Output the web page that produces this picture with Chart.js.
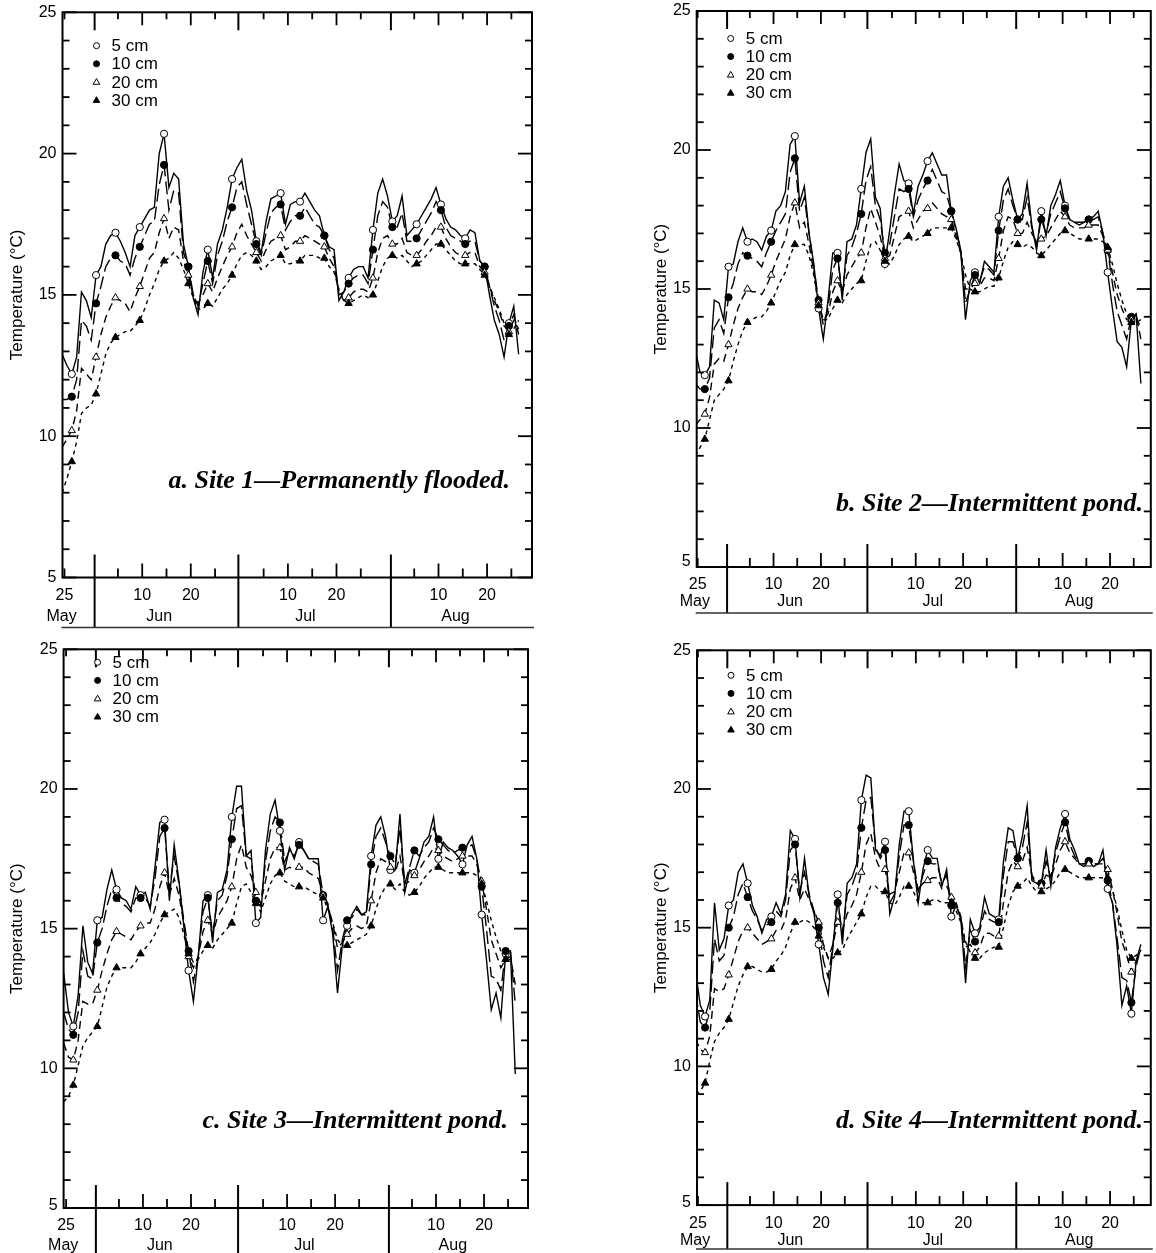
<!DOCTYPE html>
<html>
<head>
<meta charset="utf-8">
<title>Soil temperature at four depths, four sites</title>
<script src="https://cdn.jsdelivr.net/npm/chart.js"></script>
<style>
    body {
        margin: 0;
        background: #ffffff;
    }

    #sheet {
        position: relative;
        width: 1156px;
        height: 1253px;
        overflow: hidden;
        background: #ffffff;
    }

    #sheet canvas {
        position: absolute;
    }
</style>
</head>
<body>
<div id="sheet">
    <canvas id="siteA" width="580" height="640" style="left:0;top:0"></canvas>
    <canvas id="siteB" width="576" height="640" style="left:580px;top:0"></canvas>
    <canvas id="siteC" width="580" height="613" style="left:0;top:640px"></canvas>
    <canvas id="siteD" width="576" height="613" style="left:580px;top:640px"></canvas>
</div>

<script>
    // Day 0 = 25 May. Daily series run from day -1 (24 May) to day 93 (26 Aug).
    const firstDay = -1;
    const sampleDays = [1, 6, 10, 15, 20, 25, 29, 34, 39, 44, 48, 53, 58, 63, 67, 72, 77, 82, 86, 91];
    const depths = ['5 cm', '10 cm', '20 cm', '30 cm'];

    // calendar axis
    const monthNames = ['May', 'Jun', 'Jul', 'Aug'];
    const monthNameDays = [-0.6, 19.5, 49.6, 80.5];
    const monthBreaks = [6.2, 35.8, 67.2];
    const labelDays = [0, 16, 26, 46, 56, 77, 87];
    const labelText = ['25', '10', '20', '10', '20', '10', '20'];
    const minorDays = [0, 11, 21, 31, 41, 51, 61, 72, 82, 92];
    const majorDays = [16, 26, 46, 56, 77, 87];
    const tempLabels = [5, 10, 15, 20, 25];

    // Site 1
    const a5 = [12.9,
        12.5, 12.2, 12.8, 15.1, 14.8, 14.2, 15.7, 16.0, 16.8, 17.1,
        17.2, 16.9, 16.5, 16.0, 17.1, 17.4, 17.7, 18.0, 18.1, 20.0,
        20.7, 18.8, 19.3, 19.1, 16.8, 16.0, 14.9, 14.3, 15.8, 16.6,
        15.6, 16.8, 17.3, 18.1, 19.1, 19.5, 19.8, 18.7, 18.0, 16.9,
        16.5, 17.6, 18.4, 18.5, 18.6, 17.5, 18.2, 18.3, 18.3, 18.6,
        18.3, 18.0, 17.8, 17.1, 16.7, 16.6, 14.8, 15.1, 15.6, 15.9,
        16.0, 16.0, 15.6, 17.3, 18.6, 19.1, 18.5, 17.6, 17.8, 18.5,
        17.1, 17.3, 17.5, 17.8, 18.1, 18.4, 18.8, 18.2, 17.7, 17.4,
        17.3, 17.1, 17.0, 17.3, 17.2, 16.2, 16.0, 15.0, 14.1, 13.6,
        12.8, 14.0, 14.6, 12.9];
    const a10 = [11.3,
        11.3, 11.4, 12.0, 14.1, 13.9, 13.4, 14.7, 15.3, 16.0, 16.3,
        16.4, 16.2, 16.1, 15.7, 16.3, 16.7, 17.1, 17.5, 17.6, 18.9,
        19.6, 18.0, 18.7, 18.6, 16.5, 16.0, 15.0, 14.6, 15.4, 16.2,
        15.4, 16.4, 16.9, 17.6, 18.1, 18.8, 19.0, 18.2, 17.5, 16.8,
        16.4, 17.2, 17.9, 18.1, 18.2, 17.3, 17.6, 17.8, 17.8, 18.1,
        17.8, 17.5, 17.4, 17.1, 16.6, 16.3, 15.0, 15.1, 15.4, 15.6,
        15.7, 15.7, 15.4, 16.6, 17.8, 18.3, 18.1, 17.4, 17.4, 17.9,
        16.9, 16.9, 17.0, 17.3, 17.6, 17.9, 18.3, 18.0, 17.4, 17.1,
        17.0, 16.9, 16.8, 16.9, 16.9, 16.2, 16.0, 15.3, 14.6, 14.1,
        13.4, 13.9, 14.3, 13.6];
    const a20 = [9.6,
        9.9, 10.2, 10.9, 12.4, 12.2, 12.0, 12.8, 13.6, 14.2, 14.6,
        14.9, 14.8, 14.7, 14.4, 14.9, 15.3, 15.8, 16.3, 16.5, 17.2,
        17.7, 17.0, 17.4, 17.3, 16.2, 15.7, 15.0, 14.7, 15.0, 15.4,
        15.1, 15.6, 16.0, 16.4, 16.7, 17.2, 17.5, 17.1, 16.8, 16.5,
        16.2, 16.6, 16.9, 17.0, 17.1, 16.6, 16.7, 16.9, 16.9, 17.1,
        17.0, 16.9, 16.8, 16.7, 16.3, 16.0, 15.1, 14.8, 14.9, 15.1,
        15.2, 15.2, 15.1, 15.6, 16.5, 17.0, 17.1, 16.8, 16.8, 17.0,
        16.5, 16.4, 16.4, 16.6, 16.9, 17.1, 17.4, 17.4, 17.0, 16.7,
        16.5, 16.4, 16.4, 16.5, 16.5, 16.0, 15.8, 15.3, 14.8, 14.4,
        13.9, 13.7, 14.1, 13.8];
    const a30 = [8.0,
        8.5, 9.1, 9.8, 10.8, 11.0, 11.1, 11.5, 12.2, 12.9, 13.3,
        13.5, 13.6, 13.7, 13.7, 13.9, 14.1, 14.5, 15.0, 15.4, 15.9,
        16.2, 16.3, 16.5, 16.3, 15.9, 15.4, 14.9, 14.5, 14.5, 14.7,
        14.6, 14.9, 15.2, 15.4, 15.7, 16.1, 16.4, 16.5, 16.4, 16.2,
        15.9, 16.0, 16.2, 16.3, 16.4, 16.1, 16.1, 16.2, 16.2, 16.4,
        16.4, 16.4, 16.3, 16.3, 16.0, 15.8, 15.2, 14.8, 14.7, 14.8,
        14.9, 15.0, 14.9, 15.0, 15.5, 16.0, 16.3, 16.4, 16.3, 16.4,
        16.2, 16.0, 16.1, 16.2, 16.4, 16.6, 16.8, 16.8, 16.6, 16.4,
        16.2, 16.1, 16.1, 16.1, 16.1, 15.9, 15.7, 15.3, 14.9, 14.5,
        14.0, 13.6, 13.8, 14.1];

    // Site 2
    const b5 = [12.8,
        12.0, 11.9, 12.2, 14.6, 14.5, 13.9, 15.8, 15.9, 16.7, 17.2,
        16.7, 16.8, 16.7, 16.4, 16.9, 17.1, 17.8, 18.0, 18.5, 20.2,
        20.5, 18.1, 18.7, 17.0, 15.9, 14.3, 13.2, 14.6, 16.3, 16.3,
        14.6, 16.7, 16.8, 17.3, 18.6, 19.9, 20.4, 18.3, 17.9, 15.9,
        17.1, 18.4, 19.5, 18.9, 18.8, 17.7, 18.7, 19.1, 19.6, 19.9,
        19.5, 19.1, 19.1, 17.8, 17.2, 16.4, 13.9, 15.3, 15.6, 15.2,
        16.0, 15.8, 15.6, 17.6, 18.7, 19.0, 18.2, 17.5, 17.7, 18.8,
        17.3, 16.4, 17.8, 16.9, 18.0, 18.4, 18.9, 18.0, 17.5, 17.4,
        17.4, 17.4, 17.5, 17.6, 17.8, 17.0, 15.6, 14.3, 13.1, 12.9,
        12.2, 13.9, 14.1, 11.6];
    const b10 = [11.6,
        11.4, 11.4, 11.8, 13.6, 13.9, 13.4, 14.7, 15.2, 15.9, 16.3,
        16.2, 16.1, 16.0, 15.8, 16.3, 16.7, 17.1, 17.4, 17.7, 19.2,
        19.7, 17.8, 18.3, 17.0, 15.8, 14.6, 13.7, 14.3, 15.7, 16.1,
        14.9, 16.2, 16.5, 17.0, 17.7, 18.9, 19.4, 18.0, 17.5, 16.3,
        16.6, 17.6, 18.6, 18.5, 18.6, 17.6, 18.2, 18.6, 18.9, 19.3,
        18.9, 18.5, 18.4, 17.8, 17.1, 16.4, 14.5, 15.0, 15.5, 15.3,
        15.8, 15.7, 15.5, 17.1, 18.2, 18.6, 18.0, 17.5, 17.5, 18.3,
        17.2, 16.6, 17.5, 17.0, 17.7, 18.1, 18.5, 17.9, 17.5, 17.4,
        17.3, 17.4, 17.5, 17.5, 17.6, 17.0, 16.4, 15.2, 14.2, 13.7,
        13.2, 14.0, 14.1, 13.2];
    const b20 = [10.1,
        10.3, 10.5, 11.1, 12.3, 12.5, 12.4, 13.0, 13.7, 14.3, 14.7,
        15.0, 14.9, 14.9, 14.8, 15.1, 15.5, 16.0, 16.4, 16.8, 17.6,
        18.1, 17.2, 17.4, 16.6, 15.6, 14.5, 13.9, 14.1, 14.9, 15.3,
        14.9, 15.5, 15.8, 16.1, 16.3, 17.2, 17.9, 17.4, 16.9, 16.1,
        16.2, 16.9, 17.6, 17.7, 17.8, 17.2, 17.5, 17.8, 17.9, 18.1,
        17.9, 17.7, 17.6, 17.5, 16.9, 16.3, 15.0, 15.0, 15.2, 15.1,
        15.4, 15.4, 15.3, 16.1, 17.1, 17.6, 17.5, 17.0, 17.0, 17.4,
        17.0, 16.7, 16.8, 16.9, 17.2, 17.5, 17.8, 17.6, 17.3, 17.2,
        17.2, 17.2, 17.3, 17.3, 17.3, 16.9, 16.4, 15.6, 14.8, 14.3,
        13.9, 13.9, 14.0, 13.6];
    const b30 = [9.0,
        9.3, 9.6, 10.3, 11.0, 11.2, 11.4, 11.7, 12.4, 13.0, 13.5,
        13.8, 13.9, 14.0, 14.0, 14.2, 14.5, 14.9, 15.3, 15.6, 16.2,
        16.6, 16.6, 16.6, 16.2, 15.5, 14.4, 13.9, 13.9, 14.3, 14.6,
        14.5, 14.8, 15.0, 15.2, 15.3, 16.0, 16.6, 16.7, 16.4, 16.0,
        15.9, 16.2, 16.6, 16.8, 16.9, 16.7, 16.8, 16.9, 17.0, 17.2,
        17.2, 17.2, 17.2, 17.2, 16.8, 16.3, 15.5, 15.0, 14.9, 14.9,
        15.0, 15.1, 15.1, 15.4, 16.0, 16.5, 16.7, 16.6, 16.5, 16.6,
        16.5, 16.3, 16.2, 16.4, 16.6, 16.8, 17.0, 17.1, 17.0, 16.9,
        16.8, 16.8, 16.8, 16.8, 16.8, 16.7, 16.5, 15.9, 15.2, 14.6,
        14.1, 13.8, 13.8, 13.9];

    // Site 3
    const c5 = [13.4,
        12.0, 11.5, 12.6, 15.1, 13.8, 13.4, 15.3, 15.4, 16.4, 17.1,
        16.4, 16.1, 16.0, 15.7, 16.5, 16.2, 16.3, 15.7, 17.2, 18.8,
        18.9, 16.0, 18.0, 16.7, 15.1, 13.5, 12.4, 14.0, 16.0, 16.2,
        14.5, 16.3, 16.4, 17.1, 19.0, 20.1, 20.1, 17.6, 17.8, 15.2,
        15.4, 17.8, 19.1, 19.6, 18.5, 17.1, 17.9, 17.5, 18.1, 17.8,
        17.5, 17.5, 17.5, 15.3, 15.8, 14.8, 12.7, 14.4, 15.1, 15.5,
        15.8, 15.5, 15.6, 17.6, 18.7, 19.0, 18.3, 17.1, 17.1, 19.1,
        16.3, 17.1, 17.0, 17.5, 18.1, 18.3, 19.0, 17.5, 18.1, 17.9,
        17.8, 17.6, 17.3, 18.0, 18.3, 17.5, 15.5, 13.9, 12.1, 12.7,
        11.8, 14.1, 14.2, 9.8];
    const c10 = [12.0,
        11.4, 11.2, 12.0, 14.2, 13.3, 13.2, 14.5, 15.0, 15.8, 16.4,
        16.1, 15.9, 15.8, 15.6, 16.1, 16.1, 16.1, 15.8, 16.8, 18.3,
        18.6, 16.4, 17.6, 16.6, 15.3, 14.2, 13.1, 14.0, 15.6, 16.1,
        14.8, 16.0, 16.2, 16.9, 18.2, 19.3, 19.4, 17.6, 17.5, 16.0,
        15.8, 17.4, 18.5, 19.0, 18.8, 17.4, 17.8, 17.6, 18.0, 17.8,
        17.5, 17.4, 17.3, 16.2, 15.9, 15.0, 13.5, 14.6, 15.3, 15.4,
        15.7, 15.5, 15.5, 17.3, 18.3, 18.6, 18.1, 17.6, 17.3, 18.6,
        16.6, 17.2, 17.8, 17.6, 17.9, 18.1, 18.6, 18.2, 18.0, 17.8,
        17.7, 17.8, 17.9, 17.9, 18.0, 17.5, 16.5, 15.0, 13.3, 13.2,
        12.8, 14.2, 14.2, 12.3];
    const c20 = [10.9,
        10.4, 10.3, 11.0, 12.4, 12.3, 12.3, 12.8, 13.5, 14.1, 14.6,
        14.9, 14.8, 14.7, 14.6, 14.9, 15.1, 15.2, 15.2, 15.7, 16.5,
        17.0, 16.2, 16.8, 16.2, 15.2, 14.0, 13.6, 14.0, 14.9, 15.3,
        14.8, 15.4, 15.7, 16.0, 16.5, 17.5, 18.0, 17.2, 16.9, 16.3,
        15.9, 16.7, 17.5, 17.9, 17.9, 17.1, 17.2, 17.1, 17.2, 17.2,
        17.0, 16.9, 16.8, 16.2, 15.8, 15.2, 14.3, 14.5, 14.8, 15.0,
        15.1, 15.0, 15.1, 16.0, 17.0, 17.5, 17.4, 17.2, 17.0, 17.6,
        16.6, 16.7, 16.9, 17.1, 17.4, 17.6, 17.9, 17.8, 17.6, 17.5,
        17.4, 17.5, 17.6, 17.6, 17.6, 17.3, 16.7, 15.7, 14.6, 14.1,
        13.6, 13.9, 14.0, 13.0];
    const c30 = [8.8,
        9.0, 9.4, 10.1, 10.8, 11.1, 11.3, 11.5, 12.2, 12.9, 13.3,
        13.6, 13.6, 13.6, 13.6, 13.8, 14.1, 14.3, 14.5, 14.8, 15.2,
        15.5, 15.6, 15.7, 15.4, 14.8, 14.1, 13.8, 13.9, 14.2, 14.4,
        14.3, 14.6, 14.8, 15.0, 15.2, 15.9, 16.5, 16.6, 16.3, 15.9,
        15.6, 16.1, 16.6, 16.9, 17.0, 16.7, 16.6, 16.5, 16.5, 16.5,
        16.4, 16.3, 16.2, 16.1, 15.7, 15.2, 14.6, 14.4, 14.4, 14.5,
        14.6, 14.7, 14.8, 15.1, 15.7, 16.2, 16.5, 16.6, 16.4, 16.6,
        16.3, 16.2, 16.3, 16.5, 16.8, 17.0, 17.2, 17.2, 17.1, 17.0,
        17.0, 17.0, 17.0, 17.0, 17.0, 16.9, 16.6, 16.0, 15.3, 14.7,
        14.2, 13.9, 13.9, 14.0];

    // Site 4
    const d5 = [13.4,
        12.2, 11.8, 12.4, 15.9, 14.2, 14.6, 15.8, 16.0, 17.0, 17.3,
        16.6, 15.8, 15.4, 14.8, 15.3, 15.4, 15.9, 15.5, 16.2, 18.5,
        18.2, 16.1, 17.5, 16.1, 15.5, 14.4, 13.2, 12.6, 14.3, 16.2,
        14.4, 16.6, 16.8, 17.3, 19.6, 20.5, 20.4, 17.8, 17.6, 18.1,
        15.5, 16.1, 18.0, 19.2, 19.2, 17.4, 15.9, 17.1, 17.8, 17.5,
        17.5, 16.5, 17.1, 15.4, 15.8, 15.3, 13.0, 15.3, 14.8, 15.0,
        16.1, 15.5, 15.4, 15.3, 17.4, 18.6, 18.5, 17.5, 18.3, 19.4,
        16.7, 16.6, 16.6, 17.8, 16.5, 17.9, 18.6, 19.1, 18.2, 17.8,
        17.3, 17.2, 17.4, 17.2, 17.3, 17.8, 16.4, 15.9, 14.3, 12.2,
        12.9, 11.9, 13.8, 14.4];
    const d10 = [12.6,
        11.6, 11.4, 12.0, 14.6, 13.8, 14.0, 15.0, 15.4, 16.2, 16.6,
        16.1, 15.6, 15.3, 14.9, 15.1, 15.2, 15.6, 15.4, 16.0, 17.8,
        18.0, 16.3, 17.0, 16.2, 15.6, 15.0, 13.8, 13.2, 14.4, 15.9,
        14.8, 16.2, 16.5, 17.0, 18.6, 19.6, 19.7, 17.9, 17.5, 17.8,
        15.9, 16.2, 17.6, 18.7, 18.7, 17.4, 16.3, 16.9, 17.4, 17.3,
        17.3, 16.6, 16.9, 15.8, 15.9, 15.4, 13.6, 14.9, 14.5, 14.9,
        15.6, 15.3, 15.2, 15.2, 16.9, 18.1, 18.1, 17.5, 17.9, 18.8,
        16.8, 16.6, 16.6, 17.4, 16.8, 17.7, 18.3, 18.8, 18.0, 17.6,
        17.3, 17.3, 17.4, 17.3, 17.3, 17.5, 16.7, 15.9, 14.6, 13.2,
        13.1, 12.3, 13.6, 14.3];
    const d20 = [11.0,
        10.6, 10.5, 11.1, 12.8, 12.7, 12.8, 13.3, 13.9, 14.5, 14.9,
        15.0, 14.8, 14.6, 14.4, 14.5, 14.6, 14.9, 14.9, 15.3, 16.4,
        16.8, 16.0, 16.4, 16.0, 15.6, 15.2, 14.4, 13.9, 14.4, 15.2,
        14.9, 15.5, 15.8, 16.2, 17.0, 18.0, 18.4, 17.5, 17.1, 17.1,
        16.2, 16.3, 17.0, 17.7, 17.7, 17.0, 16.4, 16.6, 16.7, 16.8,
        16.8, 16.4, 16.5, 16.1, 15.8, 15.4, 14.3, 14.4, 14.1, 14.3,
        14.8, 14.8, 14.7, 14.7, 15.9, 17.0, 17.4, 17.2, 17.4, 17.9,
        16.9, 16.6, 16.5, 16.9, 16.8, 17.3, 17.8, 18.1, 17.7, 17.5,
        17.3, 17.3, 17.3, 17.3, 17.3, 17.3, 17.1, 16.4, 15.5, 14.5,
        14.0, 13.4, 13.8, 14.2];
    const d30 = [9.0,
        9.1, 9.4, 10.2, 10.9, 11.2, 11.4, 11.7, 12.3, 12.9, 13.3,
        13.6, 13.6, 13.5, 13.4, 13.4, 13.5, 13.8, 14.0, 14.3, 14.8,
        15.2, 15.2, 15.3, 15.2, 15.0, 14.7, 14.3, 13.9, 13.9, 14.1,
        14.2, 14.6, 14.9, 15.2, 15.5, 16.1, 16.5, 16.5, 16.3, 16.3,
        15.9, 15.8, 16.1, 16.5, 16.5, 16.3, 15.9, 15.9, 15.9, 16.0,
        16.0, 15.9, 15.9, 15.9, 15.6, 15.2, 14.5, 14.1, 13.9, 13.9,
        14.1, 14.2, 14.3, 14.3, 15.0, 15.8, 16.3, 16.5, 16.6, 16.8,
        16.5, 16.3, 16.3, 16.4, 16.5, 16.7, 17.0, 17.1, 17.0, 16.9,
        16.8, 16.8, 16.8, 16.8, 16.8, 16.8, 16.8, 16.4, 15.7, 14.9,
        14.2, 13.9, 14.0, 14.2];

    // line and marker look for each depth
    const depthStyle = [
        { dash: [], point: 'circle', fill: '#ffffff' },
        { dash: [13, 5], point: 'circle', fill: '#000000' },
        { dash: [8, 5], point: 'triangle', fill: '#ffffff' },
        { dash: [4, 4], point: 'triangle', fill: '#000000' }
    ];

    const panels = [
        {
            id: 'siteA', title: 'a. Site 1\u2014Permanently flooded.', series: [a5, a10, a20, a30],
            pad: { left: 62.5, right: 48, top: 12.3, bottom: 62.5 }, xMin: -0.41, xMax: 96.25,
            numGap: 18.5, monthGap: 39.5, under: 50, fiveLift: 0,
            titleRight: 510, titleBase: 488, axisTitleX: 17, legendDx: 34, legendDy: 33.4
        },
        {
            id: 'siteB', title: 'b. Site 2\u2014Intermittent pond.', series: [b5, b10, b20, b30],
            pad: { left: 116.7, right: 1, top: 11, bottom: 73 }, xMin: -0.21, xMax: 95.6,
            numGap: 18, monthGap: 34.7, under: 46, fiveLift: 5,
            titleRight: 563, titleBase: 511, axisTitleX: 81, legendDx: 34, legendDy: 27.5
        },
        {
            id: 'siteC', title: 'c. Site 3\u2014Intermittent pond.', series: [c5, c10, c20, c30],
            pad: { left: 63.6, right: 52, top: 9.3, bottom: 45 }, xMin: -0.52, xMax: 96.15,
            numGap: 17.5, monthGap: 38, under: 50, fiveLift: 2,
            titleRight: 508, titleBase: 488, axisTitleX: 17, legendDx: 34, legendDy: 13
        },
        {
            id: 'siteD', title: 'd. Site 4\u2014Intermittent pond.', series: [d5, d10, d20, d30],
            pad: { left: 117, right: 1, top: 10.3, bottom: 47.9 }, xMin: -0.2, xMax: 95.6,
            numGap: 18, monthGap: 35, under: 44, fiveLift: 3,
            titleRight: 563, titleBase: 488, axisTitleX: 81, legendDx: 34, legendDy: 25
        }
    ];

    const sansFont = '"Liberation Sans", Arial, Helvetica, sans-serif';

    function markerPath(ctx, style, x, y, r) {
        ctx.beginPath();
        if (style === 'circle') {
            ctx.arc(x, y, r, 0, Math.PI * 2);
        } else {
            ctx.moveTo(x, y - r);
            ctx.lineTo(x + r * 0.87, y + r * 0.5);
            ctx.lineTo(x - r * 0.87, y + r * 0.5);
            ctx.closePath();
        }
    }

    // Box, ticks, calendar strip, legend and panel caption
    const frame = {
        id: 'frame',
        afterDatasetsDraw(chart, args, o) {
            const { ctx, chartArea: a } = chart;
            const px = d => chart.scales.x.getPixelForValue(d);
            const py = t => chart.scales.y.getPixelForValue(t);
            const seg = (x1, y1, x2, y2, w) => {
                ctx.lineWidth = w;
                ctx.beginPath();
                ctx.moveTo(x1, y1);
                ctx.lineTo(x2, y2);
                ctx.stroke();
            };

            ctx.save();
            ctx.strokeStyle = '#000';
            ctx.fillStyle = '#000';

            // temperature ticks, both sides
            for (let t = 5; t <= 25; t++) {
                const len = t % 5 === 0 ? 14 : 7;
                seg(a.left, py(t), a.left + len, py(t), 1.8);
                seg(a.right, py(t), a.right - len, py(t), 1.8);
            }

            // day ticks, bottom and top
            minorDays.forEach(d => {
                seg(px(d), a.bottom, px(d), a.bottom - 9, 1.8);
                seg(px(d), a.top, px(d), a.top + 7, 1.8);
            });
            majorDays.forEach(d => {
                seg(px(d), a.bottom, px(d), a.bottom - 14, 1.8);
                seg(px(d), a.top, px(d), a.top + 13, 1.8);
            });
            monthBreaks.forEach(d => {
                seg(px(d), a.bottom - 23, px(d), a.bottom + o.under, 2);
                seg(px(d), a.top, px(d), a.top + 18, 2);
            });

            ctx.lineWidth = 2;
            ctx.strokeRect(a.left, a.top, a.right - a.left, a.bottom - a.top);

            ctx.strokeStyle = '#333';
            seg(a.left - 1, a.bottom + o.under, a.right + 2, a.bottom + o.under, 1.5);

            // temperature labels
            ctx.font = '16px ' + sansFont;
            ctx.textAlign = 'right';
            ctx.textBaseline = 'middle';
            tempLabels.forEach(t => {
                const lift = t === 5 ? o.fiveLift : 0;
                ctx.fillText(String(t), a.left - 6, py(t) - lift);
            });

            // day numbers and month names
            ctx.textAlign = 'center';
            labelDays.forEach((d, i) => ctx.fillText(labelText[i], px(d), a.bottom + o.numGap));
            monthNames.forEach((m, i) => ctx.fillText(m, px(monthNameDays[i]), a.bottom + o.monthGap));

            // axis title
            ctx.save();
            ctx.translate(o.axisTitleX, (a.top + a.bottom) / 2);
            ctx.rotate(-Math.PI / 2);
            ctx.font = '17px ' + sansFont;
            ctx.fillText('Temperature (\u00B0C)', 0, 0);
            ctx.restore();

            // legend
            ctx.textAlign = 'left';
            ctx.font = '17px ' + sansFont;
            depths.forEach((label, k) => {
                const y = a.top + o.legendDy + k * 18.1;
                const x = a.left + o.legendDx;
                const st = depthStyle[k];
                markerPath(ctx, st.point, x, y + (st.point === 'circle' ? 0 : 0.5), st.point === 'circle' ? 3 : 3.8);
                ctx.fillStyle = st.fill;
                ctx.fill();
                ctx.lineWidth = 1;
                ctx.strokeStyle = '#000';
                ctx.stroke();
                ctx.fillStyle = '#000';
                ctx.fillText(label, x + 15, y + 1);
            });

            // caption
            ctx.textAlign = 'right';
            ctx.textBaseline = 'alphabetic';
            ctx.font = 'italic bold 26px "Liberation Serif", "Times New Roman", serif';
            ctx.fillText(o.title, o.titleRight, o.titleBase);

            ctx.restore();
        }
    };

    panels.forEach(p => {
        const datasets = [];

        // daily means, drawn at midday of each day
        p.series.forEach((vals, k) => {
            datasets.push({
                data: vals.map((v, i) => ({ x: firstDay + i + 0.5, y: v })),
                borderColor: '#000',
                borderWidth: 1.4,
                borderDash: depthStyle[k].dash,
                pointRadius: 0,
                tension: 0,
                fill: false,
                order: 10 + k
            });
        });

        // symbols on the sampling days
        p.series.forEach((vals, k) => {
            const st = depthStyle[k];
            datasets.push({
                data: sampleDays.map(d => ({ x: d + 0.5, y: vals[d - firstDay] })),
                showLine: false,
                pointStyle: st.point,
                pointRadius: st.point === 'circle' ? 3.6 : 4.2,
                pointBackgroundColor: st.fill,
                pointBorderColor: '#000',
                pointBorderWidth: 1,
                order: 3 - k
            });
        });

        new Chart(document.getElementById(p.id), {
            type: 'line',
            data: { datasets },
            options: {
                responsive: false,
                animation: false,
                events: [],
                layout: { padding: p.pad },
                scales: {
                    x: { type: 'linear', min: p.xMin, max: p.xMax, display: false },
                    y: { type: 'linear', min: 5, max: 25, display: false }
                },
                plugins: {
                    legend: { display: false },
                    tooltip: { enabled: false },
                    frame: p
                }
            },
            plugins: [frame]
        });
    });
</script>
</body>
</html>
